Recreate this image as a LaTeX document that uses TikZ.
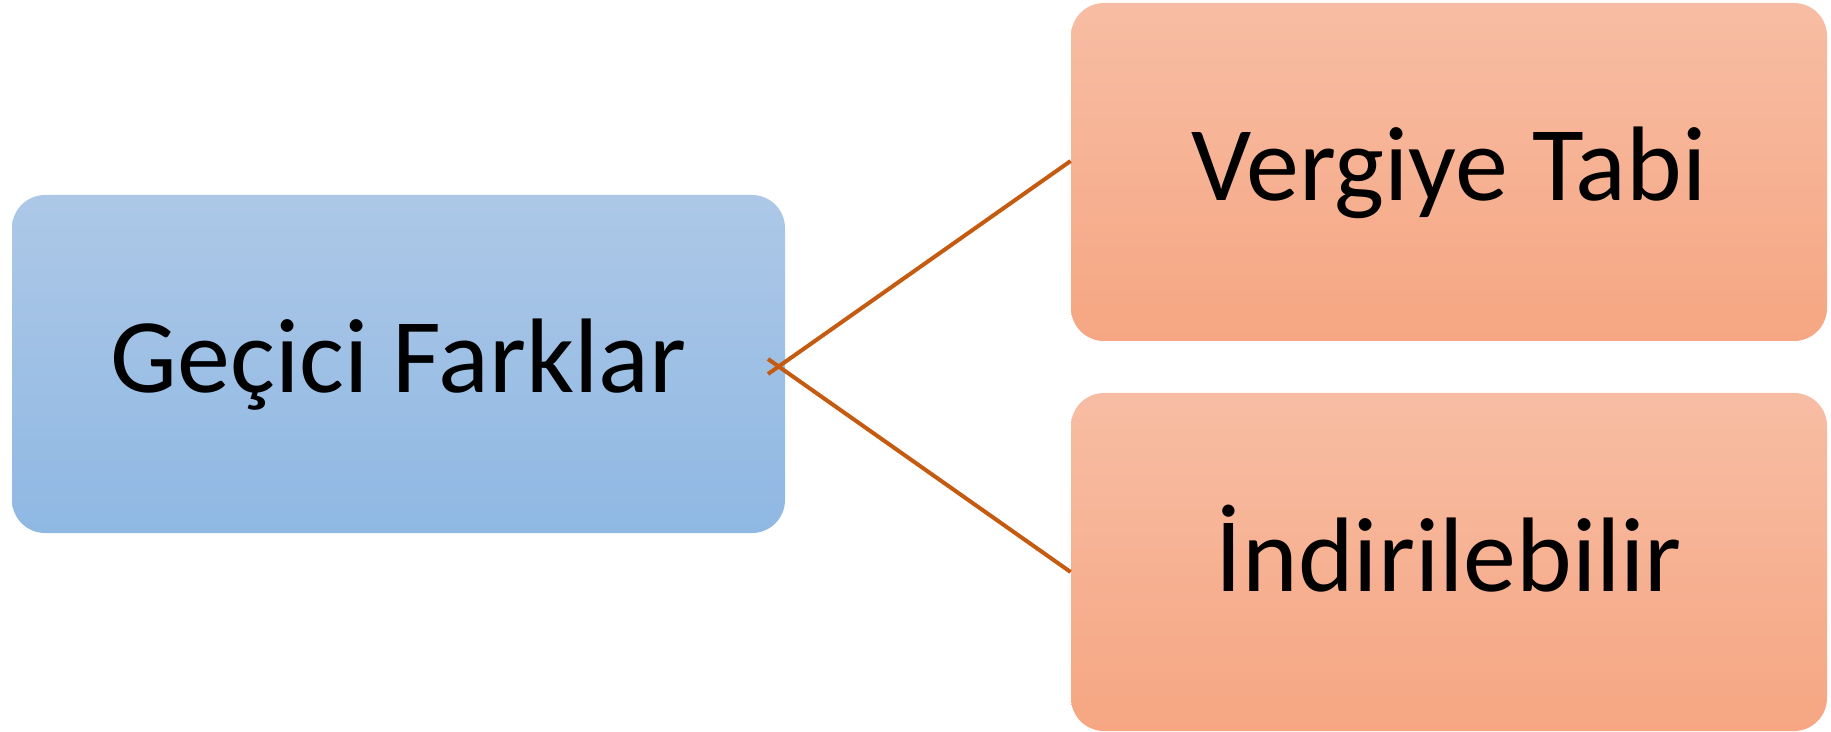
\documentclass[tikz,border=0pt]{standalone}
\usepackage{fontspec}
\setmainfont{Carlito}
\begin{document}
\begin{tikzpicture}[x=0.5pt,y=-0.5pt,
  box/.style={rounded corners=16.5pt,inner sep=0pt,text height=40pt,text depth=11pt,font=\fontsize{53}{64}\selectfont},
  bluebox/.style={box,minimum width=386.5pt,minimum height=169pt,top color={rgb,255:red,173;green,200;blue,231},bottom color={rgb,255:red,143;green,184;blue,227}},
  orangebox/.style={box,minimum width=378pt,minimum height=169pt,top color={rgb,255:red,247;green,189;blue,164},bottom color={rgb,255:red,246;green,166;blue,130}},
  link/.style={draw={rgb,255:red,197;green,90;blue,17},line width=2pt}]
  \useasboundingbox (0,0) rectangle (1831,732);
  \node[bluebox] (gecici) at (398.5,364) {Geçici Farklar};
  \node[orangebox] (vergi) at (1449,172) {Vergiye Tabi};
  \node[orangebox] (indir) at (1449,562) {İndirilebilir};
  \coordinate (uc1) at (768,374);
  \coordinate (uc2) at (768,359);
  \draw[link] ([yshift=5.5pt]vergi.west) -- (uc1);
  \draw[link] ([yshift=-5pt]indir.west) -- (uc2);
\end{tikzpicture}
\end{document}
